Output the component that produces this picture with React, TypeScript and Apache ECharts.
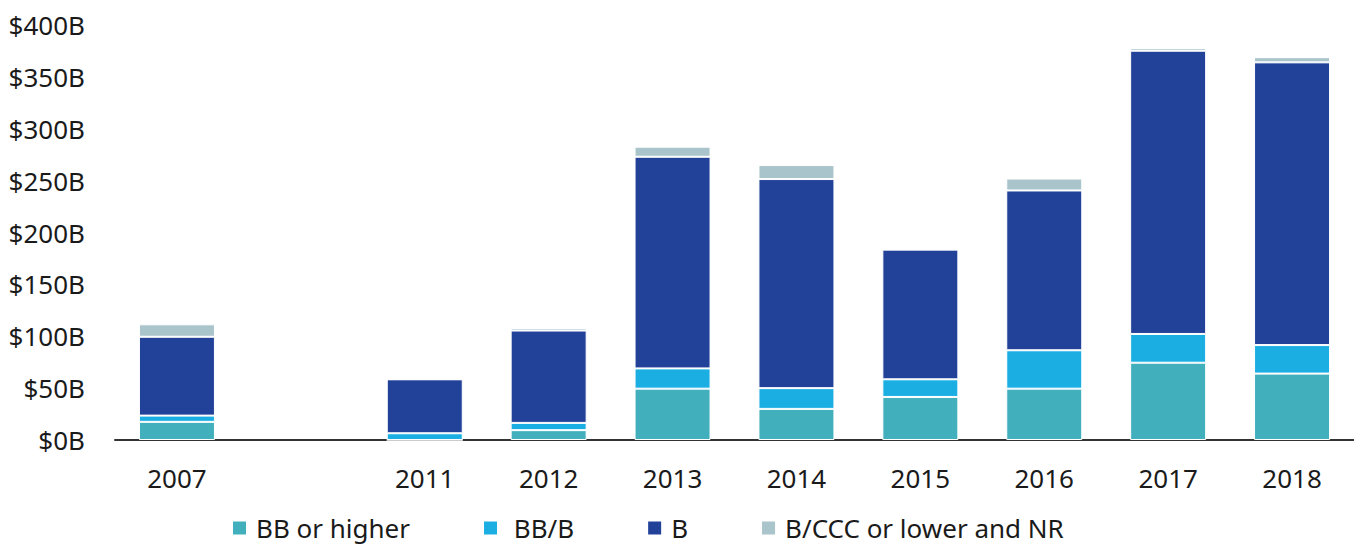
import React, { useEffect, useRef } from "react";
import * as echarts from "echarts";

const categories = ["2007", "", "2011", "2012", "2013", "2014", "2015", "2016", "2017", "2018"];
const bbOrHigher = [17.5, null, 0, 9.5, 49.5, 30, 41.5, 49.5, 74.5, 64];
const bbB = [6, null, 6.5, 7, 19.5, 20, 17, 37, 27.7, 27.5];
const bOnly = [76, null, 52, 89, 204, 201.5, 125, 154, 273, 272.5];
const cccNr = [12, null, 0, 2.5, 9.7, 13.5, 0, 11.5, 2.6, 5];
const seriesNames = ["BB or higher", " BB/B", "B", "B/CCC or lower and NR"];
const colors = ["#41AFBC", "#1BAEE3", "#224199", "#AAC4CB"];
const yTicks = { min: 0, max: 400, interval: 50 };

export default function App() {
  const ref = useRef<HTMLDivElement>(null);
  useEffect(() => {
    if (!ref.current) return;
    const chart = echarts.init(ref.current, undefined, { renderer: "svg" });
    const font = "'Noto Sans', 'Open Sans', sans-serif";
    const datasets = [bbOrHigher, bbB, bOnly, cccNr];
    chart.setOption({
      animation: false,
      color: colors,
      textStyle: { fontFamily: font },
      grid: { left: 115, right: 0, top: 25, bottom: 106, containLabel: false },
      legend: {
        data: seriesNames,
        left: 231,
        top: 515,
        padding: 0,
        itemWidth: 15,
        itemHeight: 15,
        itemGap: 72,
        icon: "rect",
        textStyle: {
          fontSize: 26,
          lineHeight: 26,
          color: "#1a1a1a",
          fontFamily: font,
          padding: [0, 0, 0, 4],
        },
      },
      xAxis: {
        type: "category",
        data: categories,
        axisLine: { show: true, lineStyle: { color: "#333", width: 2 } },
        axisTick: { show: false },
        axisLabel: { fontSize: 26, color: "#1a1a1a", margin: 25, fontFamily: font },
      },
      yAxis: {
        type: "value",
        min: yTicks.min,
        max: yTicks.max,
        interval: yTicks.interval,
        splitLine: { show: false },
        axisLine: { show: false },
        axisTick: { show: false },
        axisLabel: {
          fontSize: 26,
          color: "#1a1a1a",
          margin: 30,
          fontFamily: font,
          formatter: (v: number) => "$" + v + "B",
        },
      },
      series: datasets.map((d, i) => ({
        name: seriesNames[i],
        type: "bar",
        stack: "total",
        barWidth: 76,
        data: d,
        itemStyle: { color: colors[i], borderColor: "#ffffff", borderWidth: 1 },
      })),
    });
    return () => chart.dispose();
  }, []);
  return (
    <div
      ref={ref}
      style={{ position: "fixed", left: 0, top: 0, width: 1354, height: 546, background: "#fff" }}
    />
  );
}
